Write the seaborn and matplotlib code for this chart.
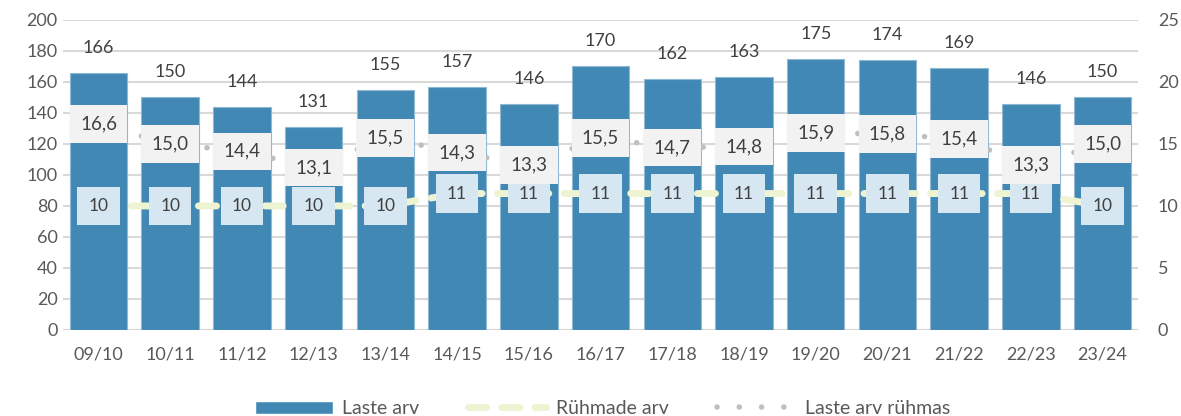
import matplotlib
matplotlib.use("Agg")
import matplotlib.pyplot as plt
import seaborn as sns
import pandas as pd
from matplotlib.patches import Patch
from matplotlib.lines import Line2D

seasons = ["09/10", "10/11", "11/12", "12/13", "13/14", "14/15", "15/16", "16/17",
           "17/18", "18/19", "19/20", "20/21", "21/22", "22/23", "23/24"]
laste_arv = [166, 150, 144, 131, 155, 157, 146, 170, 162, 163, 175, 174, 169, 146, 150]
ruhmade_arv = [10, 10, 10, 10, 10, 11, 11, 11, 11, 11, 11, 11, 11, 11, 10]
laste_arv_ruhmas = [16.6, 15.0, 14.4, 13.1, 15.5, 14.3, 13.3, 15.5, 14.7, 14.8,
                    15.9, 15.8, 15.4, 13.3, 15.0]

df = pd.DataFrame({"hooaeg": seasons, "laste": laste_arv,
                   "ruhmad": ruhmade_arv, "ruhmas": laste_arv_ruhmas})
df["x"] = range(len(df))

sns.set_style("white")
plt.rcParams["font.family"] = ["Lato", "DejaVu Sans"]
txt_col = "#595959"
bar_col = "#4189B4"
dash_col = "#EEF3D2"
dot_col = "#BFBFBF"
dash_style = (0, (2.6, 2.2))
dot_style = (0, (0.01, 4.0))

fig = plt.figure(figsize=(11.81, 4.16), dpi=100)
ax = fig.add_axes([0.053, 0.207, 0.911, 0.745])

sns.barplot(data=df, x="hooaeg", y="laste", color=bar_col, width=0.8,
            saturation=1, ax=ax, edgecolor="#8FB9D3", linewidth=0.8, zorder=2)
ax.set_ylim(0, 200)
ax.set_xlim(-0.5, len(df) - 0.5)
ax.set_yticks(range(0, 201, 20))
ax.yaxis.grid(True, color="#D9D9D9", linewidth=1.5, zorder=0)
ax.set_axisbelow(True)
for s in ax.spines.values():
    s.set_visible(False)
ax.axhline(0, color="#D9D9D9", linewidth=1.5, zorder=1)
ax.set_xlabel("")
ax.set_ylabel("")
ax.tick_params(axis="both", length=0, colors=txt_col, labelsize=13)
ax.tick_params(axis="x", pad=12)

for i, v in enumerate(laste_arv):
    ax.text(i, v + 11, str(v), ha="center", va="bottom", fontsize=13, color="#404040")

ax2 = ax.twinx()
ax2.set_ylim(0, 25)
ax2.set_yticks(range(0, 26, 5))
for s in ax2.spines.values():
    s.set_visible(False)
ax2.tick_params(axis="y", length=0, colors=txt_col, labelsize=13, pad=14)

sns.lineplot(data=df, x="x", y="ruhmad", ax=ax2, color=dash_col, linewidth=5,
             zorder=3, legend=False)
ax2.lines[-1].set_linestyle(dash_style)
ax2.lines[-1].set_dash_capstyle("round")
sns.lineplot(data=df, x="x", y="ruhmas", ax=ax2, color=dot_col, linewidth=4,
             zorder=3, legend=False)
ax2.lines[-1].set_linestyle(dot_style)
ax2.lines[-1].set_dash_capstyle("round")
ax2.set_xlabel("")
ax2.set_ylabel("")

for i, v in enumerate(ruhmade_arv):
    ax2.text(i, v, str(v), ha="center", va="center", fontsize=12.5, color="#404040",
             zorder=5, bbox=dict(boxstyle="square,pad=0.65", fc="#D6E7F1", ec="none"))
for i, v in enumerate(laste_arv_ruhmas):
    ax2.text(i, v, f"{v:.1f}".replace(".", ","), ha="center", va="center",
             fontsize=13.5, color="#404040", zorder=5,
             bbox=dict(boxstyle="square,pad=0.55", fc="#F2F2F2", ec="none"))

handles = [
    Patch(facecolor=bar_col, label="Laste arv"),
    Line2D([0], [0], color=dash_col, lw=5, linestyle=dash_style,
           dash_capstyle="round", label="Rühmade arv"),
    Line2D([0], [0], color=dot_col, lw=4, linestyle=dot_style,
           dash_capstyle="round", label="Laste arv rühmas"),
]
fig.legend(handles=handles, loc="lower center", ncol=3, frameon=False,
           bbox_to_anchor=(0.51, -0.045), fontsize=14, handlelength=4.0,
           handletextpad=0.5, columnspacing=2.5, labelcolor=txt_col)

fig.savefig("out.png", dpi=100)
